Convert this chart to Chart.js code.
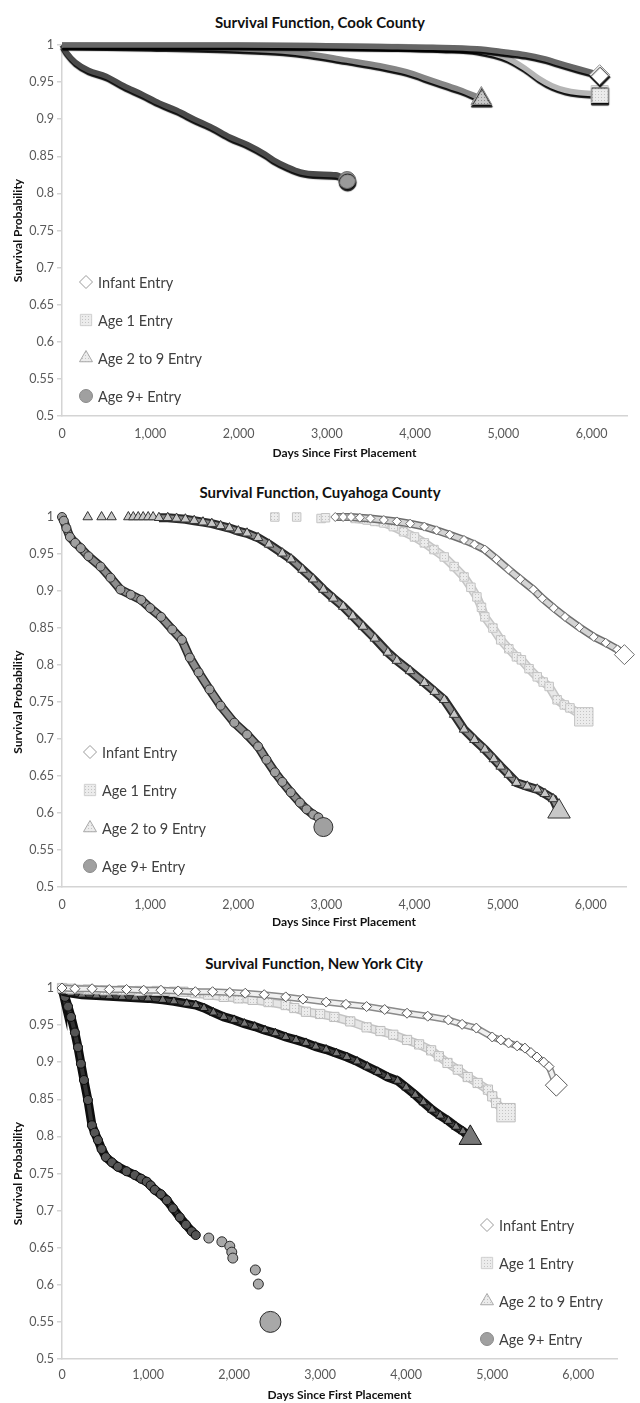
<!DOCTYPE html>
<html>
<head>
<meta charset="utf-8">
<script src="https://cdn.jsdelivr.net/npm/chart.js@4.4.1/dist/chart.umd.min.js"></script>
<style>
  body { margin: 0; background: #fff; width: 640px; height: 1403px; position: relative; overflow: hidden; }
  .panel { position: absolute; left: 0; width: 640px; }
  .ttl { position: absolute; width: 640px; text-align: center; font: bold 15px Lato, sans-serif; color: #111; }
</style>
</head>
<body>
<div class="ttl" style="top:13px;left:0">Survival Function, Cook County</div>
<div class="ttl" style="top:483px;left:0">Survival Function, Cuyahoga County</div>
<div class="ttl" style="top:954px;left:-6px">Survival Function, New York City</div>
<div class="panel" style="top:0;height:470px"><canvas id="cook" width="640" height="470"></canvas></div>
<div class="panel" style="top:470px;height:470px"><canvas id="cuy" width="640" height="470"></canvas></div>
<div class="panel" style="top:935px;height:468px"><canvas id="nyc" width="640" height="468"></canvas></div>
<script>
const seriesNames = ['Infant Entry', 'Age 1 Entry', 'Age 2 to 9 Entry', 'Age 9+ Entry'];
const yTickValues = [0.5, 0.55, 0.6, 0.65, 0.7, 0.75, 0.8, 0.85, 0.9, 0.95, 1];
const xTickValues = [0, 1000, 2000, 3000, 4000, 5000, 6000];

// Cook County (lines)
const cookInfantDays = [0, 1000, 2000, 3000, 3600, 4200, 4700, 5000, 5250, 5450, 5650, 5850, 6090];
const cookInfantSurv = [1, 1, 1, 0.999, 0.998, 0.997, 0.995, 0.991, 0.987, 0.982, 0.975, 0.968, 0.960];
const cookAge1Days = [0, 1000, 2000, 3000, 3800, 4300, 4700, 5050, 5250, 5400, 5550, 5700, 5850, 6090];
const cookAge1Surv = [1, 1, 1, 0.999, 0.998, 0.996, 0.993, 0.982, 0.968, 0.955, 0.945, 0.939, 0.936, 0.934];
const cookAge29Days = [0, 1000, 2000, 2500, 2800, 3200, 3600, 3900, 4200, 4500, 4750];
const cookAge29Surv = [1, 0.998, 0.995, 0.992, 0.988, 0.980, 0.972, 0.964, 0.952, 0.940, 0.928];
const cookAge9Days = [0, 50, 150, 300, 500, 700, 900, 1100, 1300, 1500, 1700, 1900, 2100, 2300, 2400, 2550, 2700, 2900, 3100, 3230];
const cookAge9Surv = [1, 0.99, 0.977, 0.966, 0.958, 0.945, 0.934, 0.922, 0.912, 0.900, 0.889, 0.876, 0.866, 0.853, 0.845, 0.836, 0.829, 0.826, 0.825, 0.818];

// Cuyahoga County (markers)
const cuyInfantDays = [3101, 3190, 3280, 3380, 3500, 3652, 3800, 3950, 4112, 4250, 4400, 4562, 4680, 4798, 4930, 5067, 5200, 5348, 5450, 5580, 5708, 5870, 6034, 6170, 6303, 6382];
const cuyInfantSurv = [1, 1, 1, 0.999, 0.998, 0.996, 0.994, 0.991, 0.987, 0.982, 0.976, 0.969, 0.963, 0.956, 0.943, 0.929, 0.916, 0.902, 0.890, 0.877, 0.865, 0.851, 0.838, 0.830, 0.821, 0.814];
const cuyAge1SparseDays = [2415, 2663, 2940, 2990];
const cuyAge1SparseSurv = [1, 1, 0.998, 0.999];
const cuyAge1Days = [3326, 3461, 3550, 3652, 3760, 3876, 4000, 4112, 4220, 4337, 4450, 4562, 4640, 4708, 4760, 4798, 4890, 4978, 5070, 5157, 5213, 5300, 5393, 5460, 5528, 5618, 5700, 5764, 5921];
const cuyAge1Surv = [0.998, 0.996, 0.994, 0.992, 0.987, 0.980, 0.973, 0.965, 0.956, 0.946, 0.933, 0.919, 0.905, 0.892, 0.878, 0.865, 0.850, 0.834, 0.822, 0.811, 0.807, 0.795, 0.784, 0.777, 0.771, 0.753, 0.746, 0.742, 0.730];
const cuyAge29SparseDays = [292, 449, 562, 753, 809, 865, 921, 978, 1034];
const cuyAge29SparseSurv = [1, 1, 1, 1, 1, 1, 1, 1, 1];
const cuyAge29Days = [1100, 1200, 1300, 1400, 1500, 1600, 1700, 1800, 1900, 2000, 2100, 2225, 2350, 2500, 2600, 2730, 2850, 2966, 3080, 3191, 3300, 3416, 3550, 3697, 3800, 3950, 4112, 4230, 4337, 4450, 4562, 4680, 4798, 4900, 4978, 5070, 5157, 5280, 5393, 5480, 5573, 5640];
const cuyAge29Surv = [0.999, 0.999, 0.998, 0.997, 0.995, 0.993, 0.991, 0.988, 0.985, 0.981, 0.978, 0.972, 0.963, 0.951, 0.943, 0.929, 0.916, 0.902, 0.890, 0.879, 0.866, 0.852, 0.836, 0.817, 0.806, 0.792, 0.776, 0.764, 0.753, 0.733, 0.713, 0.699, 0.686, 0.673, 0.663, 0.652, 0.641, 0.636, 0.632, 0.626, 0.619, 0.602];
const cuyAge9Days = [0, 20, 50, 90, 150, 213, 300, 438, 550, 663, 780, 899, 1000, 1124, 1250, 1360, 1450, 1550, 1674, 1800, 1955, 2100, 2225, 2320, 2416, 2500, 2596, 2700, 2775, 2850, 2910, 2966];
const cuyAge9Surv = [1, 0.995, 0.985, 0.973, 0.965, 0.958, 0.947, 0.933, 0.918, 0.902, 0.895, 0.888, 0.877, 0.865, 0.848, 0.834, 0.810, 0.790, 0.767, 0.745, 0.722, 0.706, 0.690, 0.672, 0.655, 0.642, 0.628, 0.614, 0.605, 0.598, 0.594, 0.581];

// New York City (markers)
const nycInfantDays = [0, 150, 350, 550, 750, 950, 1150, 1350, 1550, 1750, 1950, 2130, 2350, 2600, 2800, 3070, 3300, 3540, 3750, 4010, 4250, 4490, 4650, 4815, 5000, 5100, 5190, 5290, 5380, 5450, 5520, 5600, 5660, 5745];
const nycInfantSurv = [1, 0.999, 0.999, 0.998, 0.998, 0.997, 0.997, 0.996, 0.995, 0.995, 0.994, 0.993, 0.991, 0.988, 0.985, 0.981, 0.978, 0.975, 0.971, 0.966, 0.962, 0.957, 0.951, 0.946, 0.934, 0.930, 0.926, 0.922, 0.919, 0.913, 0.907, 0.900, 0.894, 0.869];
const nycAge1Days = [0, 100, 300, 500, 700, 900, 1100, 1300, 1410, 1550, 1700, 1880, 2050, 2215, 2400, 2600, 2700, 2835, 3000, 3165, 3350, 3540, 3700, 3850, 4010, 4150, 4290, 4380, 4480, 4600, 4715, 4830, 4950, 5000, 5045, 5160];
const nycAge1Surv = [1, 0.999, 0.998, 0.997, 0.997, 0.996, 0.996, 0.995, 0.995, 0.993, 0.991, 0.988, 0.986, 0.984, 0.981, 0.977, 0.973, 0.968, 0.965, 0.961, 0.955, 0.947, 0.942, 0.937, 0.930, 0.924, 0.916, 0.908, 0.899, 0.890, 0.880, 0.872, 0.863, 0.854, 0.845, 0.832];
const nycAge29Days = [0, 30, 100, 232, 400, 550, 700, 850, 1000, 1170, 1300, 1450, 1555, 1650, 1760, 1880, 2000, 2120, 2240, 2360, 2480, 2600, 2720, 2835, 2950, 3070, 3190, 3310, 3430, 3550, 3670, 3785, 3900, 4000, 4105, 4200, 4300, 4395, 4490, 4580, 4660, 4745];
const nycAge29Surv = [1, 0.995, 0.993, 0.991, 0.990, 0.989, 0.988, 0.987, 0.986, 0.984, 0.982, 0.979, 0.977, 0.973, 0.967, 0.961, 0.957, 0.952, 0.948, 0.943, 0.939, 0.934, 0.930, 0.926, 0.921, 0.917, 0.912, 0.907, 0.901, 0.894, 0.887, 0.880, 0.875, 0.866, 0.856, 0.846, 0.836, 0.828, 0.821, 0.813, 0.807, 0.798];
const nycAge9Days = [0, 10, 35, 70, 105, 150, 186, 220, 255, 301, 348, 380, 418, 460, 510, 580, 650, 750, 845, 920, 985, 1030, 1078, 1150, 1218, 1290, 1369, 1440, 1508, 1555];
const nycAge9Surv = [1, 0.995, 0.988, 0.975, 0.961, 0.940, 0.920, 0.898, 0.876, 0.849, 0.815, 0.805, 0.795, 0.783, 0.772, 0.765, 0.759, 0.753, 0.748, 0.743, 0.739, 0.734, 0.728, 0.722, 0.714, 0.703, 0.691, 0.681, 0.672, 0.667];
const nycAge9SparseDays = [1706, 1858, 1950, 1973, 1985, 2247, 2282, 2422];
const nycAge9SparseSurv = [0.663, 0.658, 0.652, 0.644, 0.636, 0.620, 0.601, 0.550];

Chart.defaults.font.family = 'Lato, "Open Sans", sans-serif';
Chart.defaults.color = '#595959';

function dotPattern(bg, dot) {
  const c = document.createElement('canvas');
  c.width = 3; c.height = 3;
  const g = c.getContext('2d');
  g.fillStyle = bg; g.fillRect(0, 0, 3, 3);
  g.fillStyle = dot; g.fillRect(1, 1, 1, 1);
  return g.createPattern(c, 'repeat');
}
const lightDots = dotPattern('#ececec', '#c4c4c4');
const greyDots = dotPattern('#c8c8c8', '#8a8a8a');

const pts = (days, surv) => days.map((d, i) => ({ x: d, y: surv[i] }));

function drawMarker(ctx, shape, x, y, r, fill, edge, lw) {
  ctx.beginPath();
  if (shape === 'circle') {
    ctx.arc(x, y, r, 0, Math.PI * 2);
  } else if (shape === 'rectRot') {
    ctx.moveTo(x, y - r); ctx.lineTo(x + r, y); ctx.lineTo(x, y + r); ctx.lineTo(x - r, y);
  } else if (shape === 'rect') {
    const s = r * Math.SQRT1_2;
    ctx.rect(x - s, y - s, 2 * s, 2 * s);
  } else {
    ctx.moveTo(x, y - r);
    ctx.lineTo(x + r * 0.866, y + r / 2);
    ctx.lineTo(x - r * 0.866, y + r / 2);
  }
  ctx.closePath();
  ctx.fillStyle = fill; ctx.fill();
  ctx.lineWidth = lw; ctx.strokeStyle = edge; ctx.stroke();
}

// legend drawn inside the plot, like the original
const insideLegend = {
  id: 'insideLegend',
  afterDraw(chart, args, opts) {
    if (!opts.items) return;
    const ctx = chart.ctx;
    ctx.save();
    opts.items.forEach((it, i) => {
      const y = opts.y + i * opts.gap;
      drawMarker(ctx, it.shape, opts.x, y, it.r, it.fill, it.edge, 1);
      ctx.font = '14.5px Lato, sans-serif';
      ctx.fillStyle = '#404040';
      ctx.textBaseline = 'middle';
      ctx.fillText(seriesNames[i], opts.x + 12, y + 1);
    });
    ctx.restore();
  }
};

const lineShadow = {
  id: 'lineShadow',
  beforeDatasetDraw(chart) {
    const c = chart.ctx;
    c.save();
    c.shadowColor = 'rgba(0,0,0,0.95)';
    c.shadowOffsetY = 2.5;
    c.shadowOffsetX = 0.5;
    c.shadowBlur = 1;
  },
  afterDatasetDraw(chart) { chart.ctx.restore(); }
};

const legendItems = [
  { shape: 'rectRot', r: 6.5, fill: '#fff', edge: '#9a9a9a' },
  { shape: 'rect', r: 8, fill: lightDots, edge: '#d0d0d0' },
  { shape: 'triangle', r: 7.5, fill: lightDots, edge: '#a8a8a8' },
  { shape: 'circle', r: 6.5, fill: '#a0a0a0', edge: '#8a8a8a' }
];

function baseOptions(cfg) {
  return {
    responsive: false,
    animation: false,
    devicePixelRatio: 1,
    events: [],
    layout: { padding: { top: cfg.padTop, right: cfg.padRight, left: 0, bottom: 0 } },
    plugins: {
      legend: { display: false },
      tooltip: { enabled: false },
      insideLegend: { items: legendItems, x: cfg.legX, y: cfg.legY, gap: 38 }
    },
    scales: {
      x: {
        type: 'linear', min: 0, max: cfg.xMax,
        afterBuildTicks: s => { s.ticks = xTickValues.map(v => ({ value: v })); },
        ticks: { maxRotation: 0, autoSkip: false, padding: cfg.xLabPad,
          font: { size: 12.5 }, color: '#595959', callback: v => v.toLocaleString('en-US') },
        grid: { display: false, drawTicks: false },
        border: { display: true, color: '#d4d4d4', width: 1.5 },
        title: { display: true, text: 'Days Since First Placement', color: '#111',
          font: { size: 12, weight: 'bold' }, padding: cfg.xTitlePad },
        afterFit: s => { s.height = cfg.xH; s.paddingRight = 0; s.paddingLeft = 0; }
      },
      y: {
        type: 'linear', min: 0.5, max: 1,
        afterBuildTicks: s => { s.ticks = yTickValues.map(v => ({ value: v })); },
        ticks: { padding: 3, autoSkip: false, font: { size: 12.5 }, color: '#595959',
          callback: v => String(Math.round(v * 100) / 100) },
        grid: { display: true, drawOnChartArea: false, drawTicks: true, tickLength: 5, color: '#d4d4d4', lineWidth: 1.5 },
        border: { display: true, color: '#d4d4d4', width: 1.5 },
        title: { display: true, text: 'Survival Probability', color: '#111',
          font: { size: 12, weight: 'bold' }, padding: 11 },
        afterFit: s => { s.width = 62; }
      }
    }
  };
}

// ---- Cook County: thick lines with end markers
function lineSet(label, days, surv, color, m) {
  const last = days.length - 1;
  return {
    label, data: pts(days, surv), showLine: true, clip: false,
    borderColor: color, borderWidth: 5.5, cubicInterpolationMode: 'monotone',
    pointStyle: m.shape,
    pointRadius: c => c.dataIndex === last ? m.r : 0,
    pointBackgroundColor: m.fill, pointBorderColor: m.edge, pointBorderWidth: 1
  };
}

new Chart(document.getElementById('cook'), {
  type: 'scatter',
  data: {
    datasets: [
      lineSet(seriesNames[0], cookInfantDays, cookInfantSurv, '#666666', { shape: 'rectRot', r: 10, fill: '#fff', edge: '#8c8c8c' }),
      lineSet(seriesNames[1], cookAge1Days, cookAge1Surv, '#b5b5b5', { shape: 'rect', r: 12, fill: lightDots, edge: '#c8c8c8' }),
      lineSet(seriesNames[2], cookAge29Days, cookAge29Surv, '#858585', { shape: 'triangle', r: 12, fill: greyDots, edge: '#8c8c8c' }),
      lineSet(seriesNames[3], cookAge9Days, cookAge9Surv, '#4a4a4a', { shape: 'circle', r: 8.5, fill: '#9a9a9a', edge: '#6a6a6a' })
    ]
  },
  options: baseOptions({ padTop: 45, padRight: 7, xMax: 6400, xH: 54, xLabPad: 10, xTitlePad: 10, legX: 86, legY: 282 }),
  plugins: [lineShadow, insideLegend]
});

// ---- marker charts: a band (outer + inner line) under densely packed markers
function markerSeries(label, days, surv, st, opts) {
  const last = days.length - 1;
  const big = opts.big !== false;
  const data = pts(days, surv);
  const marks = {
    label, data, clip: false,
    showLine: opts.band !== false, borderColor: st.inner, borderWidth: st.innerW,
    pointStyle: st.shape,
    pointRadius: c => (big && c.dataIndex === last) ? st.big : st.r,
    pointBackgroundColor: st.fill, pointBorderColor: st.edge, pointBorderWidth: 1
  };
  if (opts.band === false) return [marks];
  const outer = {
    label, data, clip: false, showLine: true,
    borderColor: st.outer, borderWidth: st.outerW, pointRadius: 0
  };
  return [marks, outer];
}

const cuyStyle = [
  { shape: 'rectRot', r: 4.5, big: 10, fill: '#fff', edge: '#6e6e6e', outer: '#6e6e6e', outerW: 8, inner: '#d4d4d4', innerW: 5 },
  { shape: 'rect', r: 6, big: 13, fill: lightDots, edge: '#c4c4c4', outer: '#c6c6c6', outerW: 9, inner: '#e8e8e8', innerW: 6 },
  { shape: 'triangle', r: 5.5, big: 13, fill: '#c8c8c8', edge: '#333', outer: '#2a2a2a', outerW: 9, inner: '#8a8a8a', innerW: 5 },
  { shape: 'circle', r: 4.5, big: 9.5, fill: '#a0a0a0', edge: '#2f2f2f', outer: '#2a2a2a', outerW: 9, inner: '#8c8c8c', innerW: 6 }
];

new Chart(document.getElementById('cuy'), {
  type: 'scatter',
  data: {
    datasets: [
      ...markerSeries(seriesNames[0], cuyInfantDays, cuyInfantSurv, cuyStyle[0], {}),
      ...markerSeries(seriesNames[1], cuyAge1Days, cuyAge1Surv, cuyStyle[1], {}),
      ...markerSeries(seriesNames[1], cuyAge1SparseDays, cuyAge1SparseSurv, cuyStyle[1], { band: false, big: false }),
      ...markerSeries(seriesNames[2], cuyAge29Days, cuyAge29Surv, cuyStyle[2], {}),
      ...markerSeries(seriesNames[2], cuyAge29SparseDays, cuyAge29SparseSurv, cuyStyle[2], { band: false, big: false }),
      ...markerSeries(seriesNames[3], cuyAge9Days, cuyAge9Surv, cuyStyle[3], {})
    ]
  },
  options: baseOptions({ padTop: 47, padRight: 7, xMax: 6400, xH: 53, xLabPad: 10, xTitlePad: 11, legX: 90, legY: 282 }),
  plugins: [insideLegend]
});

const nycStyle = [
  { shape: 'rectRot', r: 5, big: 11, fill: '#fff', edge: '#5a5a5a', outer: '#8a8a8a', outerW: 7, inner: '#f0f0f0', innerW: 4 },
  { shape: 'rect', r: 6.5, big: 13, fill: lightDots, edge: '#bdbdbd', outer: '#c4c4c4', outerW: 9, inner: '#e6e6e6', innerW: 6 },
  { shape: 'triangle', r: 5, big: 13, fill: '#777', edge: '#111', outer: '#111', outerW: 9, inner: '#444', innerW: 4 },
  { shape: 'circle', r: 4.5, big: 10.5, fill: '#555', edge: '#0d0d0d', outer: '#0d0d0d', outerW: 9, inner: '#333', innerW: 4 }
];
const nycSparse = { shape: 'circle', r: 5, big: 10.5, fill: '#a8a8a8', edge: '#2a2a2a' };

new Chart(document.getElementById('nyc'), {
  type: 'scatter',
  data: {
    datasets: [
      ...markerSeries(seriesNames[0], nycInfantDays, nycInfantSurv, nycStyle[0], {}),
      ...markerSeries(seriesNames[1], nycAge1Days, nycAge1Surv, nycStyle[1], {}),
      ...markerSeries(seriesNames[2], nycAge29Days, nycAge29Surv, nycStyle[2], {}),
      ...markerSeries(seriesNames[3], nycAge9SparseDays, nycAge9SparseSurv, nycSparse, { band: false }),
      ...markerSeries(seriesNames[3], nycAge9Days, nycAge9Surv, nycStyle[3], { big: false })
    ]
  },
  options: baseOptions({ padTop: 53, padRight: 23, xMax: 6450, xH: 44, xLabPad: 8, xTitlePad: 1, legX: 487, legY: 290 }),
  plugins: [insideLegend]
});
</script>
</body>
</html>
